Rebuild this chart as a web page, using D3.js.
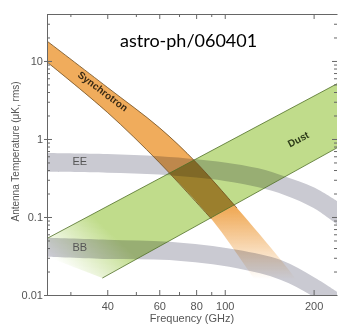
<!DOCTYPE html>
<html>
<head>
<meta charset="utf-8">
<script src="https://cdn.jsdelivr.net/npm/d3@7"></script>
<style>
  body { margin: 0; background: #fff; }
  svg { display: block; }
</style>
</head>
<body>
<div id="chart"></div>
<script>
// tick values
const xTicks = [30, 40, 50, 60, 70, 80, 90, 100, 200];
const xLabels = [40, 60, 80, 100, 200];
const yLabels = [0.01, 0.1, 1, 10];

// band edges, [GHz, uK]
const synchHi = [[25, 18], [40, 4.6], [60, 1.4], [80, 0.5], [110, 0.13], [155, 0.028], [200, 0.008]];
const synchLo = [[25, 9.7], [40, 2.2], [60, 0.5], [90, 0.095], [122, 0.019], [160, 0.004]];
const dustHi = [[25, 0.053], [240, 5.1]];
const dustLo = [[25, 0.031], [38.5, 0.0165], [240, 0.77]];
const eeHi = [[25, 0.66], [40, 0.64], [60, 0.6], [80, 0.55], [100, 0.5], [130, 0.42], [160, 0.33], [200, 0.24], [240, 0.16]];
const eeLo = [[25, 0.38], [40, 0.37], [60, 0.35], [80, 0.32], [100, 0.29], [130, 0.24], [160, 0.19], [200, 0.13], [240, 0.08]];
const bbHi = [[25, 0.054], [40, 0.051], [65, 0.048], [110, 0.038], [155, 0.028], [200, 0.017], [240, 0.011]];
const bbLo = [[25, 0.031], [40, 0.029], [65, 0.028], [110, 0.022], [155, 0.0156], [200, 0.0095], [240, 0.006]];

const width = 339, height = 327;
const margin = { top: 14, right: 2, bottom: 32, left: 47 };

const x = d3.scaleLog().domain([25, 240]).range([margin.left, width - margin.right]);
const y = d3.scaleLog().domain([0.01, 40]).range([height - margin.bottom, margin.top]);

const svg = d3.select('#chart').append('svg')
  .attr('width', width)
  .attr('height', height)
  .style('font-family', '"Liberation Sans", Arial, sans-serif');

const defs = svg.append('defs');
defs.append('clipPath').attr('id', 'plot')
  .append('rect')
  .attr('x', x.range()[0]).attr('y', y.range()[1])
  .attr('width', x.range()[1] - x.range()[0])
  .attr('height', y.range()[0] - y.range()[1]);

const orange = '#f0ac5c', green = '#c0dc8b', grey = '#cacad2';

const sg = defs.append('linearGradient').attr('id', 'synchGrad')
  .attr('gradientUnits', 'userSpaceOnUse')
  .attr('x1', 0).attr('x2', 0).attr('y1', y(0.12)).attr('y2', y(0.016));
sg.append('stop').attr('offset', 0).attr('stop-color', orange).attr('stop-opacity', 1);
sg.append('stop').attr('offset', 1).attr('stop-color', orange).attr('stop-opacity', 0);

const dg = defs.append('linearGradient').attr('id', 'dustGrad')
  .attr('gradientUnits', 'userSpaceOnUse')
  .attr('x1', x(33)).attr('y1', y(0.013)).attr('x2', x(45)).attr('y2', y(0.045));
dg.append('stop').attr('offset', 0).attr('stop-color', green).attr('stop-opacity', 0);
dg.append('stop').attr('offset', 1).attr('stop-color', green).attr('stop-opacity', 1);

const curved = d3.line().x(d => x(d[0])).y(d => y(d[1])).curve(d3.curveCatmullRom.alpha(0.5));
const straight = d3.line().x(d => x(d[0])).y(d => y(d[1]));

function band(line, hi, lo) {
  return line(hi) + 'L' + line(lo.slice().reverse()).slice(1) + 'Z';
}

defs.append('clipPath').attr('id', 'dustClip')
  .append('path').attr('d', band(straight, dustHi, dustLo));

const plot = svg.append('g').attr('clip-path', 'url(#plot)');

// CMB bands
plot.append('path').attr('d', band(curved, eeHi, eeLo))
  .attr('fill', grey).style('mix-blend-mode', 'multiply');
plot.append('path').attr('d', band(curved, bbHi, bbLo))
  .attr('fill', grey).style('mix-blend-mode', 'multiply');

// foregrounds
plot.append('path').attr('d', band(straight, dustHi, dustLo))
  .attr('fill', 'url(#dustGrad)').style('mix-blend-mode', 'multiply');
plot.append('path').attr('d', band(curved, synchHi, synchLo))
  .attr('fill', 'url(#synchGrad)').style('mix-blend-mode', 'multiply');
// darker where synchrotron and dust overlap
plot.append('g').attr('clip-path', 'url(#dustClip)')
  .append('path').attr('d', band(curved, synchHi, synchLo))
  .attr('fill', '#5a4a22').attr('fill-opacity', 0.28).style('mix-blend-mode', 'multiply');

plot.append('path').attr('d', straight(dustHi))
  .attr('fill', 'none').attr('stroke', '#4f6e26').attr('stroke-width', 0.8);
plot.append('path').attr('d', straight(dustLo.slice(1)))
  .attr('fill', 'none').attr('stroke', '#4f6e26').attr('stroke-width', 0.8);
plot.append('path').attr('d', curved(synchHi.slice(0, 5)))
  .attr('fill', 'none').attr('stroke', '#6e4c1f').attr('stroke-width', 0.8);
plot.append('path').attr('d', curved(synchLo.slice(0, 4)))
  .attr('fill', 'none').attr('stroke', '#6e4c1f').attr('stroke-width', 0.8);

// band labels
svg.append('text')
  .attr('transform', `translate(${x(38.5)},${y(4.0)}) rotate(37)`)
  .attr('text-anchor', 'middle').attr('dominant-baseline', 'middle')
  .attr('font-size', 10).attr('font-weight', 'bold').attr('fill', '#3a2a14')
  .text('Synchrotron');
svg.append('text')
  .attr('transform', `translate(${x(178)},${y(0.97)}) rotate(-28)`)
  .attr('text-anchor', 'middle').attr('dominant-baseline', 'middle')
  .attr('font-size', 10).attr('font-weight', 'bold').attr('fill', '#2c3a18')
  .text('Dust');
svg.append('text').attr('x', x(30.5)).attr('y', y(0.5))
  .attr('dominant-baseline', 'middle').attr('font-size', 11).attr('fill', '#555')
  .text('EE');
svg.append('text').attr('x', x(30.5)).attr('y', y(0.04))
  .attr('dominant-baseline', 'middle').attr('font-size', 11).attr('fill', '#555')
  .text('BB');

// axes
const yMinor = [];
[0.01, 0.1, 1, 10].forEach(d => { for (let k = 1; k < 10; k++) if (d * k <= 40) yMinor.push(d * k); });

function styleAxis(g) {
  g.select('.domain').attr('stroke', '#666').attr('stroke-width', 1);
  g.selectAll('.tick line').attr('stroke', '#666');
  g.selectAll('.tick text').attr('fill', '#555').attr('font-size', 11)
    .attr('font-family', '"Liberation Sans", Arial, sans-serif');
}

const isMajorY = d => yLabels.some(v => Math.abs(v - d) / v < 1e-6);

svg.append('g')
  .attr('transform', `translate(0,${y.range()[0]})`)
  .call(d3.axisBottom(x).tickValues(xTicks).tickSizeInner(-4).tickSizeOuter(0).tickPadding(7)
    .tickFormat(d => xLabels.includes(d) ? d : ''))
  .call(styleAxis)
  .call(g => g.selectAll('.tick line').attr('y2', d => xLabels.includes(d) ? -5 : -3));

svg.append('g')
  .attr('transform', `translate(0,${y.range()[1]})`)
  .call(d3.axisTop(x).tickValues(xTicks).tickSizeInner(-4).tickSizeOuter(0).tickFormat(''))
  .call(styleAxis)
  .call(g => g.selectAll('.tick line').attr('y2', d => xLabels.includes(d) ? 5 : 3));

svg.append('g')
  .attr('transform', `translate(${x.range()[0]},0)`)
  .call(d3.axisLeft(y).tickValues(yMinor).tickSizeInner(-3).tickSizeOuter(0).tickPadding(4)
    .tickFormat(d => isMajorY(d) ? d3.format('~g')(d) : ''))
  .call(styleAxis)
  .call(g => g.selectAll('.tick line').attr('x1', d => isMajorY(d) ? -3 : 0).attr('x2', d => isMajorY(d) ? 5 : 3));

// right side: ticks only, frame edge falls at the picture border
svg.append('g')
  .attr('transform', `translate(${x.range()[1]},0)`)
  .call(d3.axisRight(y).tickValues(yMinor).tickSizeInner(-3).tickSizeOuter(0).tickFormat(''))
  .call(styleAxis)
  .call(g => g.select('.domain').remove())
  .call(g => g.selectAll('.tick line').attr('x2', d => isMajorY(d) ? -5 : -3));

// axis titles
svg.append('text')
  .attr('x', (x.range()[0] + x.range()[1]) / 2).attr('y', 322)
  .attr('text-anchor', 'middle').attr('font-size', 11).attr('fill', '#555')
  .text('Frequency (GHz)');
svg.append('text')
  .attr('transform', `translate(19,${(y.range()[0] + y.range()[1]) / 2 - 3}) rotate(-90)`)
  .attr('text-anchor', 'middle').attr('font-size', 10).attr('fill', '#555')
  .text('Antenna Temperature (\u03bcK, rms)');

// note
svg.append('text')
  .attr('x', 120).attr('y', 47)
  .attr('font-family', 'Lato, "Open Sans", sans-serif').attr('font-size', 18).attr('fill', '#000')
  .text('astro-ph/060401');
</script>
</body>
</html>
